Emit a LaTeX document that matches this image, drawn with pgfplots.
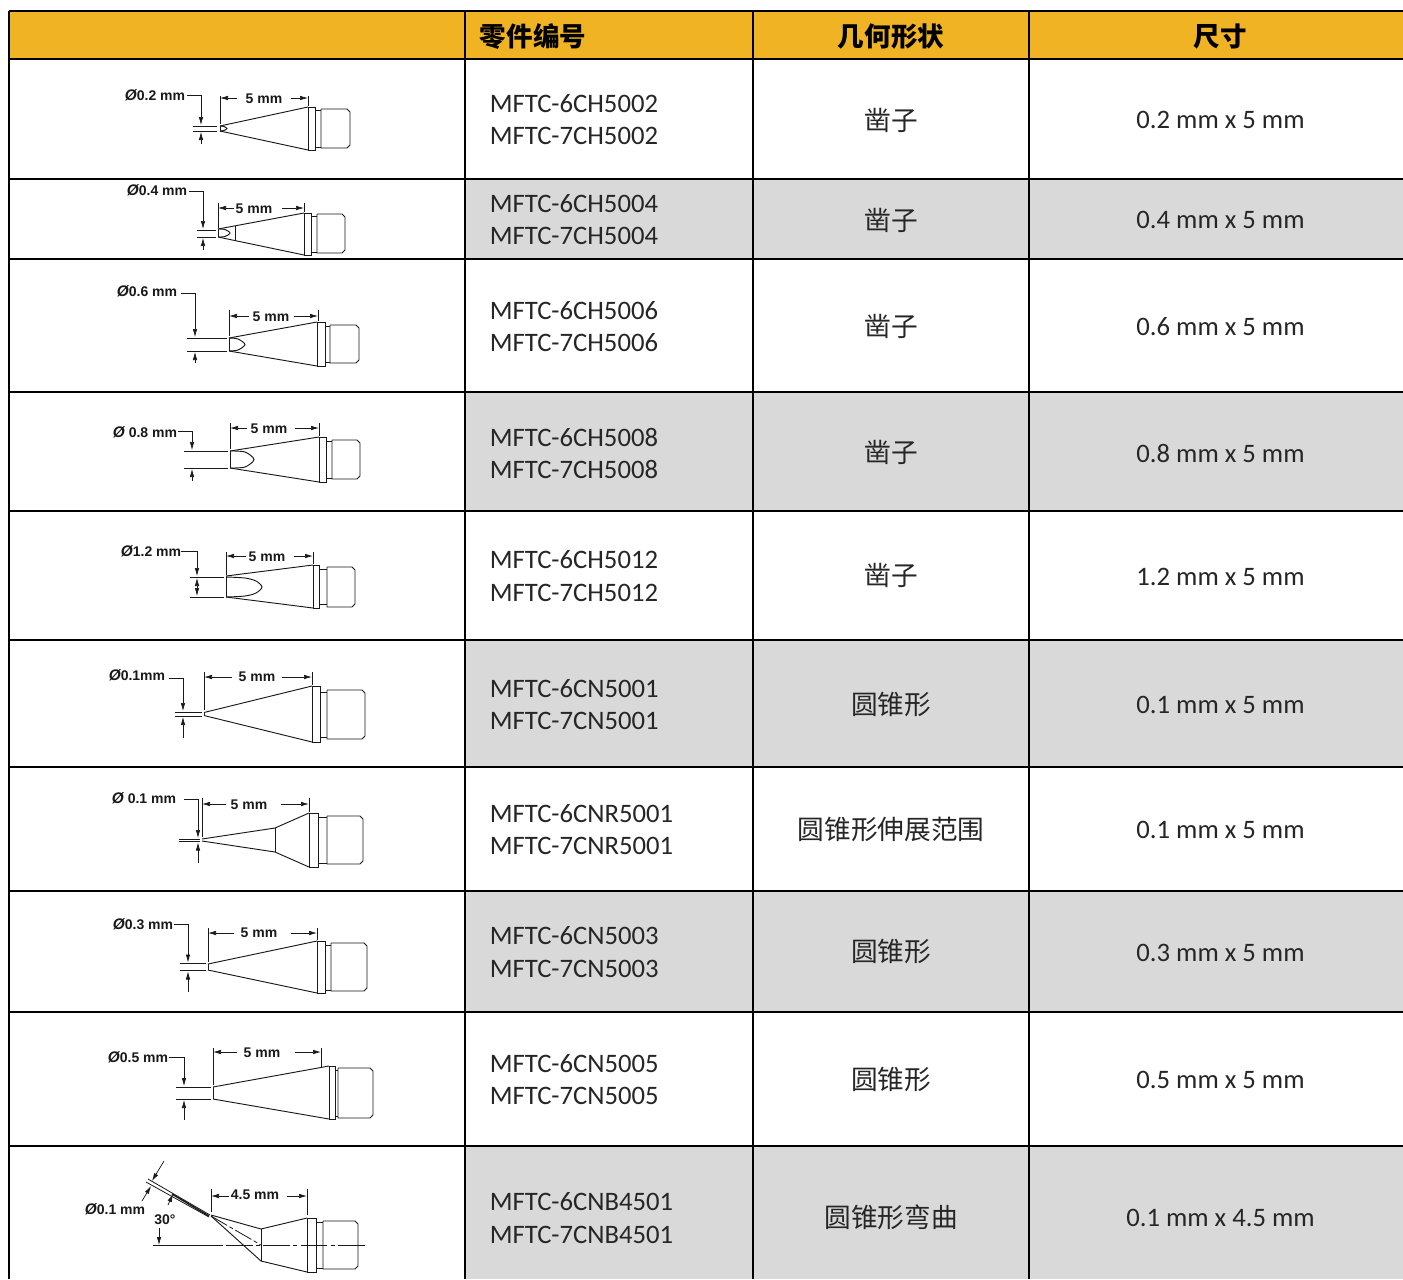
\documentclass[border=0pt]{standalone}
\usepackage{fontspec}
\usepackage{pgfplots}
\pgfplotsset{compat=1.18}
\usetikzlibrary{arrows.meta}
\setmainfont{Carlito}
\newfontfamily\cjk{Noto Sans CJK SC}
\newfontfamily\dimf{Liberation Sans}
\definecolor{hdr}{HTML}{F0B323}
\definecolor{shade}{HTML}{D9D9D9}
\definecolor{ink}{HTML}{262626}
\newcommand\Fill[2]{\addplot[fill=#1,draw=none] coordinates {#2} --cycle;}
\newcommand\Rule[1]{\addplot[black,line width=1.5pt] coordinates {#1};}
\newcommand\Ln[1]{\addplot[black!90,line width=0.7pt] coordinates {#1};}
\newcommand\Cv[1]{\addplot[black!90,line width=0.7pt,smooth] coordinates {#1};}
\newcommand\Ar[1]{\addplot[black!90,line width=0.55pt,-{Latex[length=6pt,width=3.4pt]}] coordinates {#1};}
\newcommand\Head[5]{\Ln{(#1,#4)(#2,#4)(#3,#4+3)(#3,#5-3)(#2,#5)(#1,#5)(#1,#4)}}
\newcommand\Collar[7]{\Ln{(#1,#4)(#2,#4)(#2,#5)(#1,#5)(#1,#4)}\Ln{(#2,#6)(#3,#6)}\Ln{(#2,#7)(#3,#7)}}
\newcommand\Dm[3]{\node[font=\dimf\bfseries\fontsize{10.5}{10.5}\selectfont,text=black!90,inner sep=0pt] at (axis cs:#1,#2+0.7) {#3};}
\newcommand\Dia{{\itshape\fontsize{11.5}{11.5}\selectfont Ø}}
\newcommand\Pn[3]{\node[font=\fontsize{20}{20}\selectfont,text=ink,anchor=west,inner sep=0pt] at (axis cs:489.5,#1) {MFTC-6#2};
 \node[font=\fontsize{20}{20}\selectfont,text=ink,anchor=west,inner sep=0pt] at (axis cs:489.5,#3) {MFTC-7#2};}
\newcommand\Geo[2]{\node[font=\cjk\fontsize{20}{20}\selectfont,text=ink,inner sep=0pt] at (axis cs:891,#1+0.7) {#2};}
\newcommand\Sz[2]{\node[font=\fontsize{20}{20}\selectfont,text=ink,inner sep=0pt] at (axis cs:1220.5,#1) {#2};}
\newcommand\Hd[3]{\node[font=\cjk\bfseries\fontsize{19.9}{19.9}\selectfont,text=black,inner sep=0pt] at (axis cs:#1,#2) {#3};}
\begin{document}
\begin{tikzpicture}
\begin{axis}[scale only axis,width=1052.25pt,height=959.25pt,xmin=0,xmax=1403,ymin=0,ymax=1279,y dir=reverse,hide axis,clip mode=individual]
% fills
\Fill{white}{(0,0)(1403,0)(1403,1279)(0,1279)}
\Fill{hdr}{(9,11)(1403,11)(1403,59)(9,59)}
\Fill{shade}{(465,179)(1403,179)(1403,259)(465,259)}
\Fill{shade}{(465,392)(1403,392)(1403,511)(465,511)}
\Fill{shade}{(465,640)(1403,640)(1403,767)(465,767)}
\Fill{shade}{(465,891)(1403,891)(1403,1012)(465,1012)}
\Fill{shade}{(465,1146)(1403,1146)(1403,1279)(465,1279)}
% grid
\Rule{(9,11)(1403,11)}\Rule{(9,59)(1403,59)}\Rule{(9,179)(1403,179)}\Rule{(9,259)(1403,259)}
\Rule{(9,392)(1403,392)}\Rule{(9,511)(1403,511)}\Rule{(9,640)(1403,640)}\Rule{(9,767)(1403,767)}
\Rule{(9,891)(1403,891)}\Rule{(9,1012)(1403,1012)}\Rule{(9,1146)(1403,1146)}
\Rule{(9,11)(9,1279)}\Rule{(465,11)(465,1279)}\Rule{(753,11)(753,1279)}\Rule{(1029,11)(1029,1279)}
% header
\Hd{533}{36.5}{零件编号}\Hd{891}{36.5}{几何形状}\Hd{1220.5}{36.5}{尺寸}
% text
\Pn{104}{CH5002}{136}\Geo{120}{凿子}\Sz{120}{0.2 mm x 5 mm}
\Pn{204}{CH5004}{236}\Geo{220}{凿子}\Sz{220}{0.4 mm x 5 mm}
\Pn{311}{CH5006}{343}\Geo{326}{凿子}\Sz{326.5}{0.6 mm x 5 mm}
\Pn{437}{CH5008}{469}\Geo{452}{凿子}\Sz{453}{0.8 mm x 5 mm}
\Pn{560}{CH5012}{593}\Geo{575}{凿子}\Sz{577}{1.2 mm x 5 mm}
\Pn{689}{CN5001}{721}\Geo{704}{圆锥形}\Sz{705}{0.1 mm x 5 mm}
\Pn{814}{CNR5001}{846}\Geo{829}{圆锥形伸展范围}\Sz{830}{0.1 mm x 5 mm}
\Pn{936}{CN5003}{969}\Geo{951}{圆锥形}\Sz{953}{0.3 mm x 5 mm}
\Pn{1064}{CN5005}{1096}\Geo{1079}{圆锥形}\Sz{1080}{0.5 mm x 5 mm}
\Pn{1202}{CNB4501}{1235}\Geo{1217}{圆锥形弯曲}\Sz{1218}{0.1 mm x 4.5 mm}
% row 1
\Ln{(220,126)(308,107)}\Ln{(220,131)(308,150)}\Ln{(220,125.5)(220,131.5)}
\Cv{(220,126)(224,126.5)(227,128.5)(224,130.5)(220,131)}
\Collar{308}{315}{321}{107}{150}{110}{147}\Head{321}{347}{350}{109}{148}
\Ln{(193,126)(217,126)}\Ln{(193,131)(217,131)}
\Ar{(187,95)(201,95)(201,125)}\Ar{(201,144)(201,132)}
\Ln{(220,96)(220,124)}\Ln{(308,96)(308,106)}\Ar{(237,98)(220,98)}\Ar{(291,98)(308,98)}
\Dm{264}{98}{5 mm}\Dm{155}{95}{\Dia 0.2 mm}
% row 2
\Ln{(218,229)(304,213)}\Ln{(218,237)(304,255)}\Ln{(218,229)(218,237)}\Ln{(235,226)(235,241)}
\Cv{(218,229)(225,229.5)(230,233)(225,236.5)(218,237)}
\Collar{304}{311}{317}{213}{255}{216}{252}\Head{317}{342}{345}{214}{253}
\Ln{(197,230)(216,230)}\Ln{(197,237)(216,237)}
\Ar{(189,191)(203,191)(203,229)}\Ar{(203,250)(203,238)}
\Ln{(218,203)(218,228)}\Ln{(304,203)(304,212)}\Ar{(234,208)(218,208)}\Ar{(282,208)(304,208)}
\Dm{254}{208}{5 mm}\Dm{157}{190}{\Dia 0.4 mm}
% row 3
\Ln{(229,338)(317,322)}\Ln{(229,351)(317,366)}\Ln{(229,338)(229,351)}
\Cv{(229,338)(238,339)(245,344.5)(238,350)(229,351)}
\Collar{317}{325}{330}{322}{366}{326}{362}\Head{330}{356}{359}{325}{363}
\Ln{(187,338)(227,338)}\Ln{(187,351)(227,351)}
\Ar{(181,293)(195,293)(195,337)}\Ar{(195,363)(195,352)}
\Ln{(229,310)(229,336)}\Ln{(318,310)(318,321)}\Ar{(249,316)(229,316)}\Ar{(294,316)(318,316)}
\Dm{271}{316}{5 mm}\Dm{147}{291}{\Dia 0.6 mm}
% row 4
\Ln{(230,451)(319,437)}\Ln{(230,468)(319,482)}\Ln{(230,451)(230,468)}
\Cv{(230,451)(245,452)(254,459.5)(245,467)(230,468)}
\Collar{319}{326}{332}{437}{482}{441}{478}\Head{332}{357}{360}{440}{479}
\Ln{(184,451)(228,451)}\Ln{(184,468)(228,468)}
\Ar{(178,431)(192,431)(192,450)}\Ar{(192,481)(192,469)}
\Ln{(230,423)(230,449)}\Ln{(319,423)(319,436)}\Ar{(247,428)(230,428)}\Ar{(295,428)(319,428)}
\Dm{269}{428}{5 mm}\Dm{145}{431}{\Dia\ 0.8 mm}
% row 5
\Ln{(226,576)(313,565)}\Ln{(226,597)(313,608)}\Ln{(226,576)(226,597)}
\Cv{(226,577)(245,578)(256,581)(262,587)(256,593)(245,596)(226,597)}
\Collar{313}{319}{327}{565}{608}{569}{604}\Head{327}{352}{355}{567}{607}
\Ln{(190,577)(224,577)}\Ln{(190,597)(224,597)}
\Ar{(181,551)(197,551)(197,576)}\Ar{(197,587)(197,578)}\Ar{(197,587)(197,596)}
\Ln{(226,552)(226,575)}\Ln{(313,552)(313,564)}\Ar{(246,556)(226,556)}\Ar{(294,556)(313,556)}
\Dm{267}{556}{5 mm}\Dm{151}{550}{\Dia 1.2 mm}
% row 6
\Ln{(204,712.5)(312,686)}\Ln{(204,715.5)(312,742)}\Ln{(204,712.5)(204,715.5)}
\Collar{312}{320}{327}{686}{742}{692}{737}\Head{327}{362}{365}{690}{739}
\Ln{(175,712.5)(202,712.5)}\Ln{(175,716)(202,716)}
\Ar{(169,678)(183,678)(183,711)}\Ar{(183,738)(183,717)}
\Ln{(204,672)(204,710)}\Ln{(312,672)(312,685)}\Ar{(232,677)(204,677)}\Ar{(282,677)(312,677)}
\Dm{257}{676}{5 mm}\Dm{137}{674}{\Dia 0.1mm}
% row 7
\Ln{(202,839)(275,828)}\Ln{(202,841)(275,852)}\Ln{(275,828)(275,852)}\Ln{(275,828)(309,813)}\Ln{(275,852)(309,867)}
\Collar{309}{318}{327}{813}{867}{817}{863}\Head{327}{360}{363}{816}{864}
\Ln{(179,839)(200,839)}\Ln{(179,841.5)(200,841.5)}
\Ar{(184,799)(198,799)(198,838)}\Ar{(198,863)(198,842.5)}
\Ln{(202,798)(202,837)}\Ln{(309,798)(309,812)}\Ar{(226,804)(202,804)}\Ar{(281,804)(309,804)}
\Dm{249}{804}{5 mm}\Dm{144}{797}{\Dia\ 0.1 mm}
% row 8
\Ln{(208,964)(317,941)}\Ln{(208,970)(317,993)}\Ln{(208,964)(208,970)}
\Collar{317}{325}{331}{941}{993}{945}{990}\Head{331}{364}{367}{943}{991}
\Ln{(180,963.5)(206,963.5)}\Ln{(180,970.5)(206,970.5)}
\Ar{(174,924)(188,924)(188,962.5)}\Ar{(188,992)(188,971.5)}
\Ln{(208,928)(208,962)}\Ln{(317,928)(317,940)}\Ar{(234,933)(208,933)}\Ar{(291,933)(317,933)}
\Dm{259}{932}{5 mm}\Dm{143}{923}{\Dia 0.3 mm}
% row 9
\Ln{(213,1087)(329,1066)}\Ln{(213,1099)(329,1119)}\Ln{(213,1087)(213,1099)}
\Collar{329}{335}{338}{1066}{1119}{1070}{1116}\Head{338}{370}{373}{1068}{1118}
\Ln{(176,1087)(211,1087)}\Ln{(176,1099)(211,1099)}
\Ar{(169,1057)(184,1057)(184,1086)}\Ar{(184,1120)(184,1100)}
\Ln{(213,1048)(213,1085)}\Ln{(321,1048)(321,1068)}\Ar{(237,1052)(213,1052)}\Ar{(295,1052)(321,1052)}
\Dm{262}{1052}{5 mm}\Dm{138}{1056}{\Dia 0.5 mm}
% row 10
\addplot[black!90,line width=0.6pt] coordinates {(148,1179)(210,1215)};
\addplot[black!90,line width=0.6pt] coordinates {(146,1182)(209,1217)};
\addplot[black!90,line width=1.1pt] coordinates {(172,1194)(209,1216)};
\Ln{(211,1215)(261,1229)}\Ln{(211,1216)(261,1261)}\Ln{(261,1229)(261,1261)}
\Ln{(261,1229)(307,1218)}\Ln{(261,1261)(307,1272)}
\Collar{307}{316}{323}{1218}{1272}{1222}{1268}\Head{323}{355}{358}{1221}{1269}
\Ln{(153,1245)(223,1245)}
\addplot[black!90,line width=0.6pt,dash pattern=on 20pt off 2.5pt on 3pt off 2.5pt] coordinates {(226,1245)(365,1245)};
\addplot[black!90,line width=0.6pt,dash pattern=on 14pt off 2pt on 3pt off 2pt] coordinates {(211,1216)(261,1245)};
\Ln{(211,1189)(211,1212)}\Ln{(307,1189)(307,1215)}\Ar{(229,1196)(211,1196)}\Ar{(287,1196)(307,1196)}
\Dm{255}{1194}{4.5 mm}
\Ar{(164,1161)(152,1181)}\Ar{(142,1201)(151,1186)}
\Ar{(168,1205)(173,1194)}\Ar{(159,1228)(159,1245)}
\Dm{115}{1208}{\Dia 0.1 mm}\Dm{165}{1219}{30°}
\end{axis}
\end{tikzpicture}
\end{document}
